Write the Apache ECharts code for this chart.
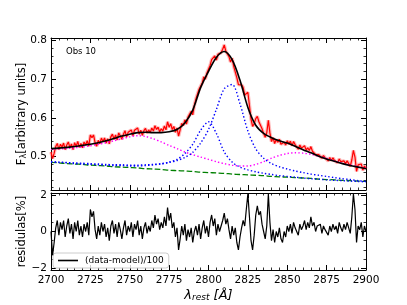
<!DOCTYPE html>
<html><head><meta charset="utf-8">
<script src="https://cdn.jsdelivr.net/npm/echarts@6/dist/echarts.min.js"></script>
<style>html,body{margin:0;padding:0;background:#fff}#c{width:407px;height:305px}</style>
</head><body><div id="c"></div>
<script>
// ---------------- data ----------------
const dataStart = 2700, dataStep = 1;   // observed spectrum sampling (Å)
const fluxObs = [
.512,.495,.509,.526,.534,.518,.532,.525,.535,.518,
.530,.538,.523,.533,.518,.536,.527,.539,.524,.534,
.523,.538,.530,.541,.527,.556,.549,.556,.536,.527,
.542,.533,.548,.539,.548,.535,.546,.533,.551,.558,
.545,.556,.543,.561,.554,.545,.558,.567,.551,.563,
.558,.569,.554,.568,.563,.574,.558,.568,.555,.567,
.573,.561,.569,.562,.574,.566,.580,.570,.576,.564,
.572,.566,.579,.569,.590,.576,.585,.570,.578,.563,
.574,.553,.569,.586,.580,.595,.584,.602,.601,.617,
.608,.632,.649,.651,.674,.670,.690,.706,.700,.716,
.712,.735,.750,.745,.760,.749,.764,.759,.768,.777,
.788,.772,.774,.758,.744,.754,.733,.731,.704,.686,
.689,.685,.679,.659,.663,.666,.632,.597,.578,.585,
.598,.604,.590,.590,.572,.560,.550,.562,.594,.561,
.539,.549,.534,.544,.537,.545,.532,.527,.537,.530,
.541,.533,.540,.528,.539,.531,.531,.519,.530,.522,
.524,.528,.517,.523,.516,.526,.514,.516,.505,.509,
.505,.508,.496,.503,.497,.498,.489,.498,.490,.497,
.490,.493,.484,.494,.487,.482,.489,.482,.489,.482,
.475,.492,.516,.499,.462,.479,.474,.481,.465,.476,
.469];
const residuals = [
0.0,-1.3,-0.6,0.2,0.6,-0.2,0.5,0.1,0.6,-0.3,
0.3,0.7,-0.1,0.4,-0.4,0.5,0.0,0.6,-0.2,0.3,
-0.3,0.4,0.0,0.5,-0.2,1.2,0.8,1.1,0.1,-0.4,
0.3,-0.2,0.5,0.0,0.4,-0.3,0.2,-0.5,0.3,0.6,
-0.1,0.4,-0.3,0.5,0.1,-0.4,0.2,0.6,-0.2,0.3,
0.0,0.5,-0.3,0.4,0.1,0.6,-0.2,0.3,-0.4,0.2,
0.5,-0.1,0.3,0.0,0.6,0.2,0.9,0.4,0.7,0.1,
0.5,0.2,0.8,0.3,1.3,0.6,1.0,0.2,0.5,-0.3,
0.2,-1.0,-0.4,0.3,-0.2,0.4,-0.5,0.1,-0.3,0.2,
-0.6,0.0,0.3,-0.2,0.4,-0.4,0.2,0.6,-0.1,0.3,
-0.3,0.5,0.9,0.3,0.7,-0.2,0.4,0.0,0.3,0.6,
1.0,0.4,0.7,0.1,-0.4,0.3,-0.2,0.2,-0.6,-1.0,
-0.3,0.2,0.6,0.3,1.2,2.05,0.8,-0.5,-1.0,-0.2,
0.9,1.4,0.9,1.1,0.4,0.0,-0.4,0.3,2.05,0.5,
-0.5,0.1,-0.6,0.0,-0.3,0.2,-0.4,-0.6,0.0,-0.3,
0.3,0.0,0.4,-0.1,0.5,0.2,0.3,-0.2,0.4,0.1,
0.3,0.6,0.1,0.5,0.2,0.8,0.3,0.5,0.0,0.3,
0.2,0.4,-0.1,0.3,0.1,0.2,-0.2,0.3,0.0,0.4,
0.1,0.3,-0.1,0.5,0.2,0.0,0.4,0.1,0.5,0.2,
-0.1,0.8,2.05,1.2,-0.6,0.3,0.1,0.5,-0.3,0.3,
0.0];
const modelStart = 2700, modelStep = 5;  // model curves sampling (Å)
const fluxModel = [.521,.522,.524,.526,.529,.532,.536,.541,.547,.553,.558,.562,.563,.562,.562,.564,.570,.587,.620,.678,.720,.756,.771,.750,.697,.627,.581,.560,.549,.541,.535,.527,.518,.510,.501,.494,.488,.482,.477,.473,.469];
const fluxFeII = [.519,.520,.521,.523,.525,.528,.532,.536,.541,.546,.551,.554,.552,.546,.538,.529,.521,.512,.505,.499,.493,.487,.482,.478,.476,.476,.480,.487,.496,.503,.508,.510,.509,.506,.501,.496,.489,.483,.478,.474,.470];
const fluxLineA = [.486,.485,.484,.482,.481,.480,.479,.478,.477,.477,.476,.476,.477,.479,.481,.486,.493,.508,.532,.568,.590,.560,.512,.486,.473,.466,.461,.457,.454,.451,.449,.447,.445,.443,.442,.440,.439,.438,.437,.436,.435];
const fluxLineB = [.487,.486,.485,.484,.483,.482,.481,.480,.479,.479,.478,.478,.479,.480,.482,.485,.490,.498,.511,.535,.570,.622,.675,.686,.636,.566,.520,.496,.482,.474,.468,.463,.459,.455,.452,.449,.446,.443,.441,.438,.436];
const fluxCont = [.485,.484,.482,.481,.480,.478,.477,.476,.474,.473,.472,.471,.469,.468,.467,.465,.464,.463,.462,.460,.459,.458,.457,.455,.454,.453,.452,.451,.449,.448,.447,.446,.445,.444,.442,.441,.440,.439,.438,.437,.436];
const xTicks = [2700,2725,2750,2775,2800,2825,2850,2875,2900];
const fluxTicks = [0.5,0.6,0.7,0.8];
const fluxMinorTicks = [0.42,0.44,0.46,0.48,0.52,0.54,0.56,0.58,0.62,0.64,0.66,0.68,0.72,0.74,0.76,0.78];
const resTicks = [-2,0,2];
const resMinorTicks = [-1.5,-1,-0.5,0.5,1,1.5];
const legendLabel = '(data-model)/100';
const obsLabel = 'Obs 10';

// ---------------- build ----------------
const pairs = (arr, s, st) => arr.map((v,i)=>[s+i*st, v]);
const FONT = 'DejaVu Sans';
const chart = echarts.init(document.getElementById('c'), null, {renderer:'canvas'});

function xAx(grid, pos, showLabel, extra){
  return Object.assign({
    type:'value', gridIndex:grid, position:pos, min:xTicks[0], max:xTicks[xTicks.length-1], interval:25,
    axisLine:{show:true, onZero:false, lineStyle:{color:'#000', width:1}},
    axisTick:{show:true, inside:true, length:5, lineStyle:{color:'#000', width:1}},
    minorTick:{show:true, splitNumber:5, length:2.5, lineStyle:{color:'#000', width:0.8}},
    splitLine:{show:false}, minorSplitLine:{show:false},
    axisLabel:{show:showLabel, color:'#000', fontFamily:FONT, fontSize:10.5, margin:5, formatter:v=>String(v)},
  }, extra||{});
}
function yAx(grid, pos, min, max, ticks, len, showLabel, fmt, extra){
  return Object.assign({
    type:'value', gridIndex:grid, position:pos, min:min, max:max,
    axisLine:{show:true, onZero:false, lineStyle:{color:'#000', width:1}},
    axisTick:{show:true, inside:true, length:len, customValues:ticks, lineStyle:{color:'#000', width:len>3?1:0.8}},
    splitLine:{show:false},
    axisLabel:{show:showLabel, customValues:ticks, color:'#000', fontFamily:FONT, fontSize:10.5, margin:4, formatter:fmt},
  }, extra||{});
}
const fFmt = v => v.toFixed(1);
const rFmt = v => (v<0 ? '\u2212'+Math.abs(v) : String(v));
const FMIN=0.414, FMAX=0.806, RMIN=-2.1, RMAX=2.1;

const option = {
  backgroundColor:'#fff',
  animation:false,
  grid:[
    {left:51, top:38, width:315, height:152, show:false},
    {left:51, top:193, width:315, height:77, show:false}
  ],
  xAxis:[
    xAx(0,'bottom',false),
    xAx(0,'top',false),
    xAx(1,'bottom',true,{
      name:'{l|\u03bb}{s|rest}{l| [\u00c5]}', nameLocation:'middle', nameGap:16, nameMoveOverlap:false,
      nameTextStyle:{rich:{
        l:{fontFamily:FONT, fontSize:13, fontStyle:'italic', color:'#000', lineHeight:16, verticalAlign:'bottom'},
        s:{fontFamily:FONT, fontSize:9, fontStyle:'italic', color:'#000', lineHeight:7, verticalAlign:'bottom'}
      }}
    }),
    xAx(1,'top',false)
  ],
  yAxis:[
    yAx(0,'left',FMIN,FMAX,fluxTicks,5,true,fFmt,{
      name:'{a|F}{s|\u03bb}{a|[arbitrary units]}', nameLocation:'middle', nameGap:23, nameMoveOverlap:false,
      nameTextStyle:{rich:{
        a:{fontFamily:FONT, fontSize:11.5, color:'#000', lineHeight:15, verticalAlign:'bottom'},
        s:{fontFamily:FONT, fontSize:8, color:'#000', lineHeight:8, verticalAlign:'bottom'}
      }}
    }),
    yAx(0,'left',FMIN,FMAX,fluxMinorTicks,2.5,false,fFmt,{axisLine:{show:false}}),
    yAx(0,'right',FMIN,FMAX,fluxTicks,5,false,fFmt),
    yAx(0,'right',FMIN,FMAX,fluxMinorTicks,2.5,false,fFmt,{axisLine:{show:false}}),
    yAx(1,'left',RMIN,RMAX,resTicks,5,true,rFmt,{
      name:'residulas[%]', nameLocation:'middle', nameGap:23, nameMoveOverlap:false,
      nameTextStyle:{fontFamily:FONT, fontSize:11.5, color:'#000'}
    }),
    yAx(1,'left',RMIN,RMAX,resMinorTicks,2.5,false,rFmt,{axisLine:{show:false}}),
    yAx(1,'right',RMIN,RMAX,resTicks,5,false,rFmt),
    yAx(1,'right',RMIN,RMAX,resMinorTicks,2.5,false,rFmt,{axisLine:{show:false}})
  ],
  legend:{
    show:true, data:[{name:legendLabel, icon:'rect'}], left:53, top:253,
    orient:'horizontal', padding:[3,5,3,5],
    backgroundColor:'rgba(255,255,255,0.8)', borderColor:'#cccccc', borderWidth:1, borderRadius:3,
    itemWidth:20, itemHeight:1.6, itemGap:4,
    textStyle:{fontFamily:FONT, fontSize:9, color:'#000', padding:[0,0,0,2]}
  },
  graphic:[{type:'text', left:66, top:47, style:{text:obsLabel, fontFamily:FONT, fontSize:8.5, fill:'#000'}}],
  series:[
    {type:'line', xAxisIndex:0, yAxisIndex:0, data:pairs(fluxObs,dataStart,dataStep), showSymbol:false, silent:true,
      lineStyle:{color:'rgba(255,60,60,0.35)', width:3.5}, z:1},
    {type:'line', xAxisIndex:0, yAxisIndex:0, data:pairs(fluxObs,dataStart,dataStep), showSymbol:false, silent:true,
      lineStyle:{color:'#ff0000', width:1.2}, z:2},
    {type:'line', xAxisIndex:0, yAxisIndex:0, data:pairs(fluxCont,modelStart,modelStep), showSymbol:false, smooth:0.3,
      lineStyle:{color:'#008000', width:1.3, type:[5.5,2.5]}, z:3},
    {type:'line', xAxisIndex:0, yAxisIndex:0, data:pairs(fluxFeII,modelStart,modelStep), showSymbol:false, smooth:0.3,
      lineStyle:{color:'#ff00ff', width:1.4, type:[1.4,2.2]}, z:3},
    {type:'line', xAxisIndex:0, yAxisIndex:0, data:pairs(fluxLineA,modelStart,modelStep), showSymbol:false, smooth:0.3,
      lineStyle:{color:'#0000ff', width:1.4, type:[1.4,2.2]}, z:3},
    {type:'line', xAxisIndex:0, yAxisIndex:0, data:pairs(fluxLineB,modelStart,modelStep), showSymbol:false, smooth:0.3,
      lineStyle:{color:'#0000ff', width:1.4, type:[1.4,2.2]}, z:3},
    {type:'line', xAxisIndex:0, yAxisIndex:0, data:pairs(fluxModel,modelStart,modelStep), showSymbol:false, smooth:0.3,
      lineStyle:{color:'#000', width:1.6}, z:4},
    {name:legendLabel, type:'line', xAxisIndex:2, yAxisIndex:4, data:pairs(residuals,dataStart,dataStep), showSymbol:false,
      symbol:'none', lineStyle:{color:'#000', width:1.2}, itemStyle:{color:'#000'}, z:4}
  ]
};
chart.setOption(option);
</script></body></html>
